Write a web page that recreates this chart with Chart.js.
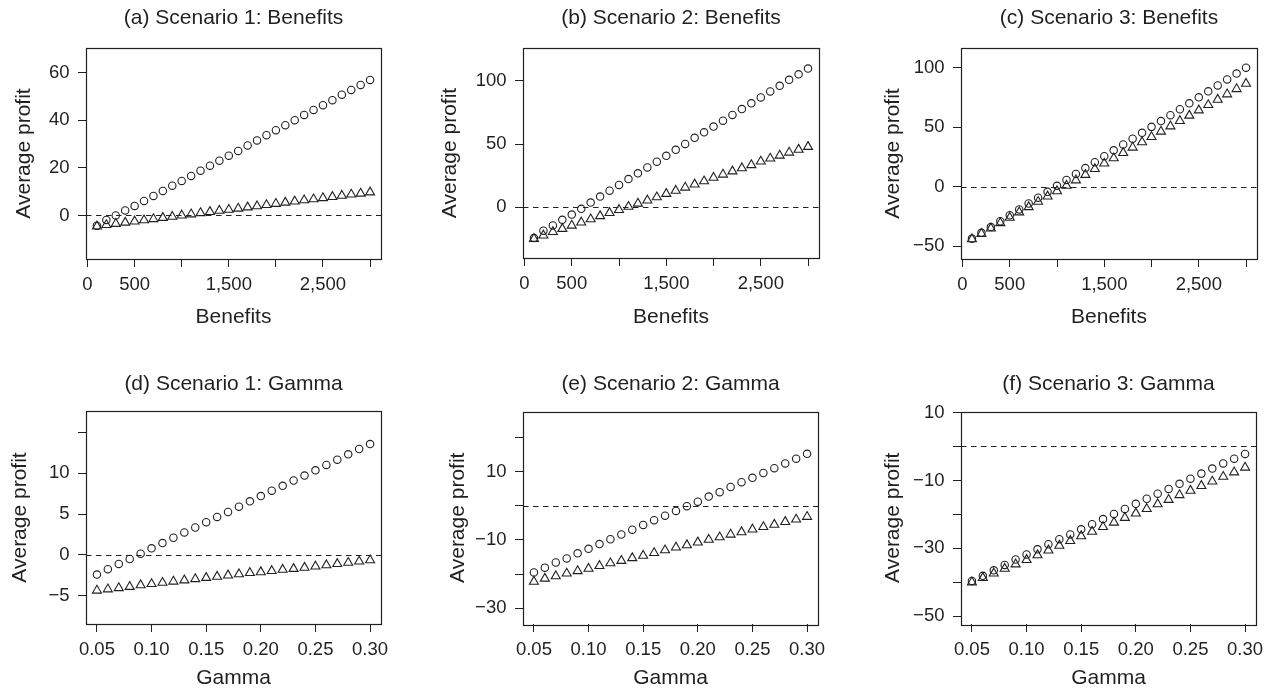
<!DOCTYPE html>
<html>
<head>
<meta charset="utf-8">
<script src="https://cdn.jsdelivr.net/npm/chart.js@4/dist/chart.umd.min.js"></script>
<style>
  body { margin: 0; background: #fff; }
  #wrap { position: relative; width: 1272px; height: 692px; }
  #wrap canvas { position: absolute; }
</style>
</head>
<body>
<div id="wrap">
  <canvas id="pa" width="424" height="346"></canvas>
  <canvas id="pb" width="424" height="346"></canvas>
  <canvas id="pc" width="424" height="346"></canvas>
  <canvas id="pd" width="424" height="346"></canvas>
  <canvas id="pe" width="424" height="346"></canvas>
  <canvas id="pf" width="424" height="346"></canvas>
</div>
<script>
// x values
const benefits = [100, 200, 300, 400, 500, 600, 700, 800, 900, 1000,
  1100, 1200, 1300, 1400, 1500, 1600, 1700, 1800, 1900, 2000,
  2100, 2200, 2300, 2400, 2500, 2600, 2700, 2800, 2900, 3000];
const gamma = [0.05, 0.06, 0.07, 0.08, 0.09, 0.10, 0.11, 0.12, 0.13, 0.14,
  0.15, 0.16, 0.17, 0.18, 0.19, 0.20, 0.21, 0.22, 0.23, 0.24,
  0.25, 0.26, 0.27, 0.28, 0.29, 0.30];

// (a) scenario 1, benefits
const aCircles = [-4.3, -1.9, 0.0, 2.1, 4.0, 6.1, 8.2, 10.3, 12.5, 14.5,
  16.6, 18.8, 20.9, 23.0, 25.1, 27.1, 29.4, 31.5, 33.7, 35.8,
  37.9, 40.0, 42.2, 44.3, 46.3, 48.4, 50.7, 52.7, 54.8, 56.9];
const aTriangles = [-4.6, -4.0, -3.5, -3.0, -2.5, -2.0, -1.5, -1.0, -0.5, 0.0,
  0.5, 1.0, 1.5, 2.0, 2.4, 2.9, 3.4, 3.9, 4.4, 4.9,
  5.4, 5.9, 6.4, 6.8, 7.3, 7.8, 8.3, 8.8, 9.2, 9.7];
// (b) scenario 2, benefits
const bCircles = [-24.4, -18.6, -14.4, -10.0, -5.8, -1.3, 3.7, 8.4, 13.1, 17.6,
  22.3, 26.8, 31.5, 36.0, 40.7, 45.4, 50.1, 54.9, 59.3, 63.8,
  68.5, 73.0, 77.7, 82.2, 86.9, 91.6, 96.1, 100.8, 105.2, 109.7];
const bTriangles = [-25.0, -22.3, -19.6, -17.1, -14.5, -12.0, -9.5, -7.0, -4.5, -2.1,
  0.4, 2.9, 5.4, 7.9, 10.6, 13.1, 15.6, 18.1, 20.6, 23.4,
  25.9, 28.4, 30.9, 33.4, 36.2, 38.6, 40.9, 43.3, 45.6, 47.8];
// (c) scenario 3, benefits
const cCircles = [-43.5, -38.6, -33.8, -28.9, -23.9, -19.0, -14.0, -9.1, -4.2, 0.8,
  5.8, 10.8, 15.7, 20.7, 25.7, 30.6, 35.5, 40.4, 45.3, 50.3,
  55.2, 60.1, 65.1, 70.1, 75.1, 80.1, 85.1, 90.1, 95.0, 100.0];
const cTriangles = [-43.9, -39.4, -34.9, -30.4, -25.9, -21.4, -17.0, -12.5, -8.0, -3.6,
  1.0, 5.5, 10.1, 15.0, 19.6, 24.0, 28.5, 33.0, 37.5, 41.9,
  46.4, 50.8, 55.3, 59.8, 64.2, 68.7, 73.2, 77.7, 82.1, 86.6];
// (d) scenario 1, gamma
const dCircles = [-2.4, -1.75, -1.1, -0.5, 0.15, 0.8, 1.45, 2.1, 2.75, 3.35,
  4.0, 4.65, 5.25, 5.9, 6.55, 7.2, 7.85, 8.45, 9.1, 9.7,
  10.35, 11.0, 11.65, 12.3, 12.95, 13.55];
const dTriangles = [-4.35, -4.2, -4.05, -3.9, -3.7, -3.55, -3.4, -3.25, -3.1, -2.95,
  -2.8, -2.65, -2.5, -2.35, -2.2, -2.1, -1.95, -1.8, -1.7, -1.55,
  -1.4, -1.25, -1.1, -0.95, -0.8, -0.65];
// (e) scenario 2, gamma
const eCircles = [-19.5, -18.1, -16.6, -15.4, -13.9, -12.6, -11.2, -9.8, -8.4, -7.0,
  -5.6, -4.2, -2.9, -1.5, -0.1, 1.2, 2.7, 4.0, 5.5, 6.9,
  8.2, 9.6, 11.0, 12.4, 13.8, 15.2];
const eTriangles = [-22.2, -21.3, -20.6, -19.8, -19.1, -18.4, -17.6, -16.8, -16.1, -15.3,
  -14.6, -13.8, -13.0, -12.2, -11.5, -10.7, -9.9, -9.2, -8.4, -7.7,
  -6.9, -6.2, -5.5, -4.7, -4.0, -3.2];
// (f) scenario 3, gamma
const fCircles = [-39.6, -38.1, -36.5, -34.9, -33.3, -31.8, -30.3, -28.8, -27.3, -25.9,
  -24.4, -22.9, -21.4, -19.9, -18.4, -16.9, -15.4, -13.9, -12.5, -11.0,
  -9.5, -8.0, -6.5, -5.0, -3.6, -2.2];
const fTriangles = [-40.0, -38.7, -37.4, -36.0, -34.7, -33.4, -32.0, -30.6, -29.2, -27.8,
  -26.4, -25.1, -23.7, -22.4, -21.0, -19.7, -18.4, -17.0, -15.7, -14.3,
  -13.0, -11.6, -10.3, -8.9, -7.6, -6.2];

// tick values and labels
const benefitTicks = [0, 500, 1000, 1500, 2000, 2500, 3000];
const benefitLabels = ['0', '500', '', '1,500', '', '2,500', ''];
const gammaTicks = [0.05, 0.10, 0.15, 0.20, 0.25, 0.30];
const gammaLabels = ['0.05', '0.10', '0.15', '0.20', '0.25', '0.30'];
const aYTicks = [0, 20, 40, 60];
const aYLabels = ['0', '20', '40', '60'];
const bYTicks = [0, 50, 100];
const bYLabels = ['0', '50', '100'];
const cYTicks = [-50, 0, 50, 100];
const cYLabels = ['\u221250', '0', '50', '100'];
const dYTicks = [-5, 0, 5, 10, 15];
const dYLabels = ['\u22125', '0', '5', '10', ''];
const eYTicks = [-30, -20, -10, 0, 10, 20];
const eYLabels = ['\u221230', '', '\u221210', '', '10', ''];
const fYTicks = [-50, -40, -30, -20, -10, 0, 10];
const fYLabels = ['\u221250', '', '\u221230', '', '\u221210', '', '10'];

const ink = '#231f20';
const W = 424, H = 346;
Chart.defaults.font.family = '"Liberation Sans", Arial, Helvetica, sans-serif';
Chart.defaults.color = ink;

// box around the plot region + dashed line at zero
const boxPlugin = {
  id: 'box',
  afterDatasetsDraw(chart) {
    const { ctx, chartArea: a } = chart;
    const y0 = chart.scales.y.getPixelForValue(0);
    ctx.save();
    ctx.strokeStyle = ink;
    ctx.lineWidth = 1;
    ctx.setLineDash([5.5, 4.5]);
    ctx.beginPath();
    ctx.moveTo(a.left, Math.round(y0) + 0.5);
    ctx.lineTo(a.right, Math.round(y0) + 0.5);
    ctx.stroke();
    ctx.setLineDash([]);
    ctx.lineWidth = 1.2;
    ctx.strokeRect(Math.round(a.left) + 0.5, Math.round(a.top) + 0.5,
      Math.round(a.right - a.left), Math.round(a.bottom - a.top));
    ctx.restore();
  }
};

function panel(id, col, row, p) {
  const cv = document.getElementById(id);
  cv.style.left = (col * W) + 'px';
  cv.style.top = (row * H) + 'px';
  const pts = ys => p.xs.map((x, i) => ({ x: x, y: ys[i] }));
  const fixTicks = vals => scale => { scale.ticks = vals.map(v => ({ value: v })); };
  return new Chart(cv, {
    type: 'scatter',
    data: {
      datasets: [{
        data: pts(p.circles),
        pointStyle: 'circle',
        pointRadius: 3.7,
        borderColor: ink,
        backgroundColor: 'rgba(0,0,0,0)',
        borderWidth: 1.1
      }, {
        data: pts(p.triangles),
        pointStyle: 'triangle',
        pointRadius: 5.2,
        borderColor: ink,
        backgroundColor: 'rgba(0,0,0,0)',
        borderWidth: 1.1
      }]
    },
    options: {
      responsive: false,
      animation: false,
      events: [],
      layout: {
        autoPadding: false,
        padding: { left: 0, right: W - p.area.right, top: 0, bottom: 0 }
      },
      plugins: {
        legend: { display: false },
        tooltip: { enabled: false },
        title: {
          display: true,
          text: p.title,
          fullSize: false,
          color: ink,
          font: { size: 21, weight: 'normal' },
          padding: { top: p.titleY - 12.6, bottom: p.area.top - p.titleY - 12.6 }
        }
      },
      scales: {
        x: {
          type: 'linear',
          min: p.xmin,
          max: p.xmax,
          afterBuildTicks: fixTicks(p.xTicks),
          afterFit: s => { s.height = H - p.area.bottom; },
          grid: { drawOnChartArea: false, drawTicks: true, tickLength: 8, color: ink },
          border: { display: false },
          ticks: {
            autoSkip: false, maxRotation: 0, padding: 6.4,
            font: { size: 18.5 }, color: ink,
            callback: (v, i) => p.xLabels[i]
          },
          title: {
            display: true, text: p.xTitle, color: ink,
            font: { size: 21 },
            padding: { top: 0, bottom: H - p.xTitleY - 12.6 }
          }
        },
        y: {
          min: p.ymin,
          max: p.ymax,
          afterBuildTicks: fixTicks(p.yTicks),
          afterFit: s => { s.width = p.area.left; },
          grid: { drawOnChartArea: false, drawTicks: true, tickLength: 8, color: ink },
          border: { display: false },
          ticks: {
            autoSkip: false, padding: 8.5,
            font: { size: 18.5 }, color: ink,
            callback: (v, i) => p.yLabels[i]
          },
          title: {
            display: true, text: 'Average profit', color: ink,
            font: { size: 21 },
            padding: { top: p.yTitleX - 12.6, bottom: 0 }
          }
        }
      }
    },
    plugins: [boxPlugin]
  });
}

const benefitAxis = { xs: benefits, xmin: -16, xmax: 3116, xTicks: benefitTicks, xLabels: benefitLabels, xTitle: 'Benefits' };
const gammaAxis = { xs: gamma, xmin: 0.04, xmax: 0.31, xTicks: gammaTicks, xLabels: gammaLabels, xTitle: 'Gamma' };

panel('pa', 0, 0, Object.assign({}, benefitAxis, {
  title: '(a) Scenario 1: Benefits', circles: aCircles, triangles: aTriangles,
  ymin: -18.3, ymax: 70.3, yTicks: aYTicks, yLabels: aYLabels,
  area: { left: 86, right: 381, top: 48, bottom: 259 }, titleY: 18, yTitleX: 24.5, xTitleY: 317.5
}));
panel('pb', 1, 0, Object.assign({}, benefitAxis, {
  title: '(b) Scenario 2: Benefits', circles: bCircles, triangles: bTriangles,
  ymin: -40.2, ymax: 126, yTicks: bYTicks, yLabels: bYLabels,
  area: { left: 99, right: 395, top: 48, bottom: 258 }, titleY: 18, yTitleX: 26.7, xTitleY: 317.5
}));
panel('pc', 2, 0, Object.assign({}, benefitAxis, {
  title: '(c) Scenario 3: Benefits', circles: cCircles, triangles: cTriangles,
  ymin: -60.6, ymax: 116.5, yTicks: cYTicks, yLabels: cYLabels,
  area: { left: 113, right: 409, top: 48, bottom: 259 }, titleY: 18, yTitleX: 45, xTitleY: 317.5
}));
panel('pd', 0, 1, Object.assign({}, gammaAxis, {
  title: '(d) Scenario 1: Gamma', circles: dCircles, triangles: dTriangles,
  ymin: -8.45, ymax: 17.6, yTicks: dYTicks, yLabels: dYLabels,
  area: { left: 86, right: 381, top: 65, bottom: 278 }, titleY: 38, yTitleX: 20, xTitleY: 332
}));
panel('pe', 1, 1, Object.assign({}, gammaAxis, {
  title: '(e) Scenario 2: Gamma', circles: eCircles, triangles: eTriangles,
  ymin: -34.6, ymax: 27.6, yTicks: eYTicks, yLabels: eYLabels,
  area: { left: 99, right: 394, top: 65.5, bottom: 278 }, titleY: 38, yTitleX: 34, xTitleY: 332
}));
panel('pf', 2, 1, Object.assign({}, gammaAxis, {
  title: '(f) Scenario 3: Gamma', circles: fCircles, triangles: fTriangles,
  ymin: -52.3, ymax: 10.3, yTicks: fYTicks, yLabels: fYLabels,
  area: { left: 113, right: 408, top: 65.5, bottom: 278 }, titleY: 38, yTitleX: 45, xTitleY: 332
}));
</script>
</body>
</html>
